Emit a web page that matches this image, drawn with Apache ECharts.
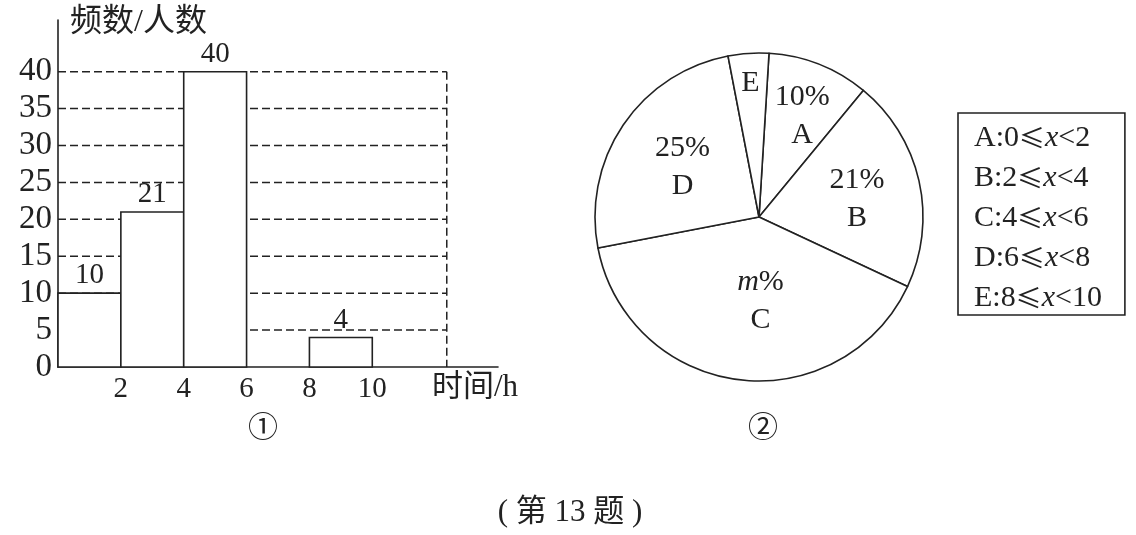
<!DOCTYPE html>
<html>
<head>
<meta charset="utf-8">
<script src="https://cdn.jsdelivr.net/npm/echarts@6/dist/echarts.min.js"></script>
<style>
html,body{margin:0;padding:0;background:#fff;}
#main{width:1136px;height:535px;}
</style>
</head>
<body>
<div id="main"></div>
<script>
// ---------- data ----------
const binEdges = [0, 2, 4, 6, 8, 10];
const counts = [10, 21, 40, null, 4];          // 6~8 bar left blank in the figure
const yTickStep = 5;
const yLabelMax = 40;
const xLabelValues = [2, 4, 6, 8, 10];
const gridValues = [5, 10, 15, 20, 25, 30, 35, 40];
const pieNames = ['A', 'B', 'C', 'D', 'E'];
const pieValues = [10, 21, 40, 25, 4];
const pieLabels = ['10%\nA', '21%\nB', '{i|m}%\nC', '25%\nD', 'E'];
const rangeLow = [0, 2, 4, 6, 8];
const rangeHigh = [2, 4, 6, 8, 10];
const yAxisName = '频数/人数';
const xAxisName = '时间/h';
const caption = '( 第 13 题 )';

// ---------- style ----------
const INK = '#222';
const SERIF = "'Liberation Serif','Noto Sans CJK SC',serif";
const gridEnd = 12.37;

const barData = [];
for (let i = 0; i < counts.length; i++) {
  if (counts[i] != null) barData.push([binEdges[i], binEdges[i + 1], counts[i]]);
}
const gridData = gridValues.map(v => [v]);

const pieData = pieNames.map((n, i) => ({ name: n, value: pieValues[i], label: { formatter: pieLabels[i] } }));
const labelShift = [[12, -22], [15, 1], [12, 0], [-6, -2], [-3, -49]];

const chart = echarts.init(document.getElementById('main'));
chart.setOption({
  animation: false,
  backgroundColor: '#fff',
  grid: { left: 58, top: 20, width: 440, height: 347, containLabel: false },
  xAxis: {
    type: 'value', min: 0, max: 14, interval: 2,
    axisLine: { show: true, lineStyle: { color: INK, width: 1.6 } },
    axisTick: { show: false },
    splitLine: { show: false },
    axisLabel: {
      color: INK, fontFamily: SERIF, fontSize: 29, margin: 8,
      formatter: v => xLabelValues.indexOf(v) >= 0 ? String(v) : ''
    },
    name: xAxisName, nameLocation: 'end', nameGap: -66,
    nameTextStyle: { color: INK, fontFamily: SERIF, fontSize: 31, align: 'left', verticalAlign: 'top', padding: [5, 0, 0, 0] }
  },
  yAxis: {
    type: 'value', min: 0, max: 47, interval: yTickStep,
    axisLine: { show: true, lineStyle: { color: INK, width: 1.6 } },
    axisTick: { show: false },
    splitLine: { show: false },
    axisLabel: {
      color: INK, fontFamily: SERIF, fontSize: 33, margin: 6,
      formatter: v => v <= yLabelMax ? String(v) : ''
    },
    name: yAxisName, nameLocation: 'end', nameGap: -3,
    nameTextStyle: { color: INK, fontFamily: SERIF, fontSize: 32, align: 'left', verticalAlign: 'middle', padding: [0, 0, 0, 12] }
  },
  legend: {
    orient: 'vertical', left: 958, top: 113,
    selectedMode: false,
    itemWidth: 0, itemHeight: 0, icon: 'rect',
    itemGap: 10,
    padding: [10, 23, 2, 10],
    borderColor: INK, borderWidth: 1.6,
    data: pieNames,
    formatter: name => {
      const i = pieNames.indexOf(name);
      return name + ':' + rangeLow[i] + '{le|≤}{i|x}<' + rangeHigh[i];
    },
    textStyle: {
      color: INK, fontFamily: SERIF, fontSize: 30, lineHeight: 30,
      rich: {
        i: { fontStyle: 'italic', fontFamily: SERIF, fontSize: 30, color: INK, lineHeight: 30 },
        le: { fontFamily: "'Noto Sans CJK SC'", fontSize: 26, color: INK, lineHeight: 30 }
      }
    }
  },
  series: [
    {
      type: 'custom', z: 1, silent: true,
      data: gridData,
      renderItem: (params, api) => {
        const v = api.value(0);
        const a = api.coord([0, v]);
        const b = api.coord([gridEnd, v]);
        const children = [{
          type: 'line', shape: { x1: a[0], y1: a[1], x2: b[0], y2: b[1] },
          style: { stroke: INK, lineWidth: 1.5, lineDash: [8, 4] }
        }];
        if (params.dataIndex === 0) {
          const top = api.coord([gridEnd, gridValues[gridValues.length - 1]]);
          const bot = api.coord([gridEnd, 0]);
          children.push({
            type: 'line', shape: { x1: top[0], y1: top[1], x2: bot[0], y2: bot[1] },
            style: { stroke: INK, lineWidth: 1.5, lineDash: [8, 4] }
          });
        }
        return { type: 'group', children };
      }
    },
    {
      type: 'custom', z: 3, silent: true,
      data: barData,
      renderItem: (params, api) => {
        const p0 = api.coord([api.value(0), api.value(2)]);
        const p1 = api.coord([api.value(1), 0]);
        return {
          type: 'rect',
          shape: { x: p0[0], y: p0[1], width: p1[0] - p0[0], height: p1[1] - p0[1] },
          style: { fill: '#fff', stroke: INK, lineWidth: 1.6 },
          textContent: { style: { text: String(api.value(2)), fill: INK, fontFamily: SERIF, fontSize: 29 } },
          textConfig: { position: 'top', distance: 2 }
        };
      }
    },
    {
      type: 'pie', silent: true,
      center: [759, 217], radius: 164,
      startAngle: 86.5, clockwise: true,
      avoidLabelOverlap: false, minShowLabelAngle: 0,
      itemStyle: { color: '#fff', borderColor: INK, borderWidth: 1.6 },
      label: {
        show: true, position: 'inside', color: INK, fontFamily: SERIF, fontSize: 30, lineHeight: 38,
        rich: { i: { fontStyle: 'italic', fontFamily: SERIF, fontSize: 30, color: INK } }
      },
      labelLine: { show: false },
      labelLayout: params => ({ dx: labelShift[params.dataIndex][0], dy: labelShift[params.dataIndex][1] }),
      emphasis: { disabled: true },
      data: pieData
    }
  ],
  graphic: [
    { type: 'text', left: 248, top: 411, style: { text: '①', fill: INK, font: "30px 'Noto Sans CJK SC'" } },
    { type: 'text', left: 748, top: 411, style: { text: '②', fill: INK, font: "30px 'Noto Sans CJK SC'" } },
    { type: 'text', x: 570, y: 513, style: { text: caption, fill: INK, align: 'center', verticalAlign: 'middle', font: "31px 'Liberation Serif','Noto Sans CJK SC'" } }
  ]
});
</script>
</body>
</html>
